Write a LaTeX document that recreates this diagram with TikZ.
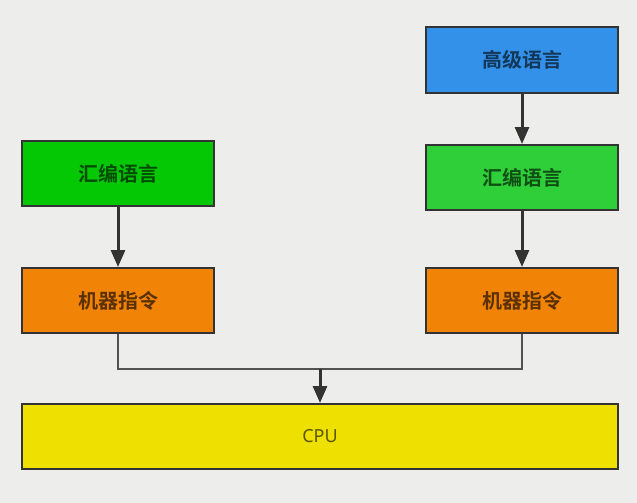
\documentclass[tikz,border=0pt]{standalone}
\usepackage{fontspec}
\newfontfamily\cjk{Noto Sans CJK SC}[BoldFont={Noto Sans CJK SC Bold}]
\newfontfamily\lat{Noto Sans}
\usetikzlibrary{arrows.meta}
\definecolor{bg}{HTML}{EDEDEB}
\definecolor{edge}{HTML}{333333}
\definecolor{cblue}{HTML}{3391E9}
\definecolor{cgreenA}{HTML}{05C805}
\definecolor{cgreenB}{HTML}{2ECF38}
\definecolor{corange}{HTML}{F18307}
\definecolor{cyellow}{HTML}{EEE000}
\tikzset{
  box/.style={draw=edge, line width=2pt, minimum width=192pt, minimum height=65pt, inner sep=0pt,
    font=\cjk\bfseries\fontsize{20}{22}\selectfont, text=black, text opacity=0.62},
  link/.style={draw=edge, line width=3pt, -{Triangle[length=17pt,width=14pt]}},
  bus/.style={draw=edge!85, line width=2.2pt}
}
\begin{document}
\begin{tikzpicture}[x=1pt,y=-1pt]
\fill[bg] (0,0) rectangle (637,503);
\useasboundingbox (0,0) rectangle (637,503);
\node[box, fill=cblue]    (hl) at (522,60)  {高级语言};
\node[box, fill=cgreenB]  (ra) at (522,177.5) {汇编语言};
\node[box, fill=corange]  (rm) at (522,300.5) {机器指令};
\node[box, fill=cgreenA]  (la) at (118,173.5) {汇编语言};
\node[box, fill=corange]  (lm) at (118,300.5) {机器指令};
\node[box, fill=cyellow, minimum width=596pt, font=\lat\fontsize{18}{20}\selectfont] (cpu) at (320,436.5) {CPU};
\coordinate (m) at (320,369);
\draw[link] (hl) -- (ra);
\draw[link] (ra) -- (rm);
\draw[link] (la) -- (lm);
\draw[bus] (lm.south) |- (m) -| (rm.south);
\draw[link] (m) -- (cpu.north);
\end{tikzpicture}
\end{document}
